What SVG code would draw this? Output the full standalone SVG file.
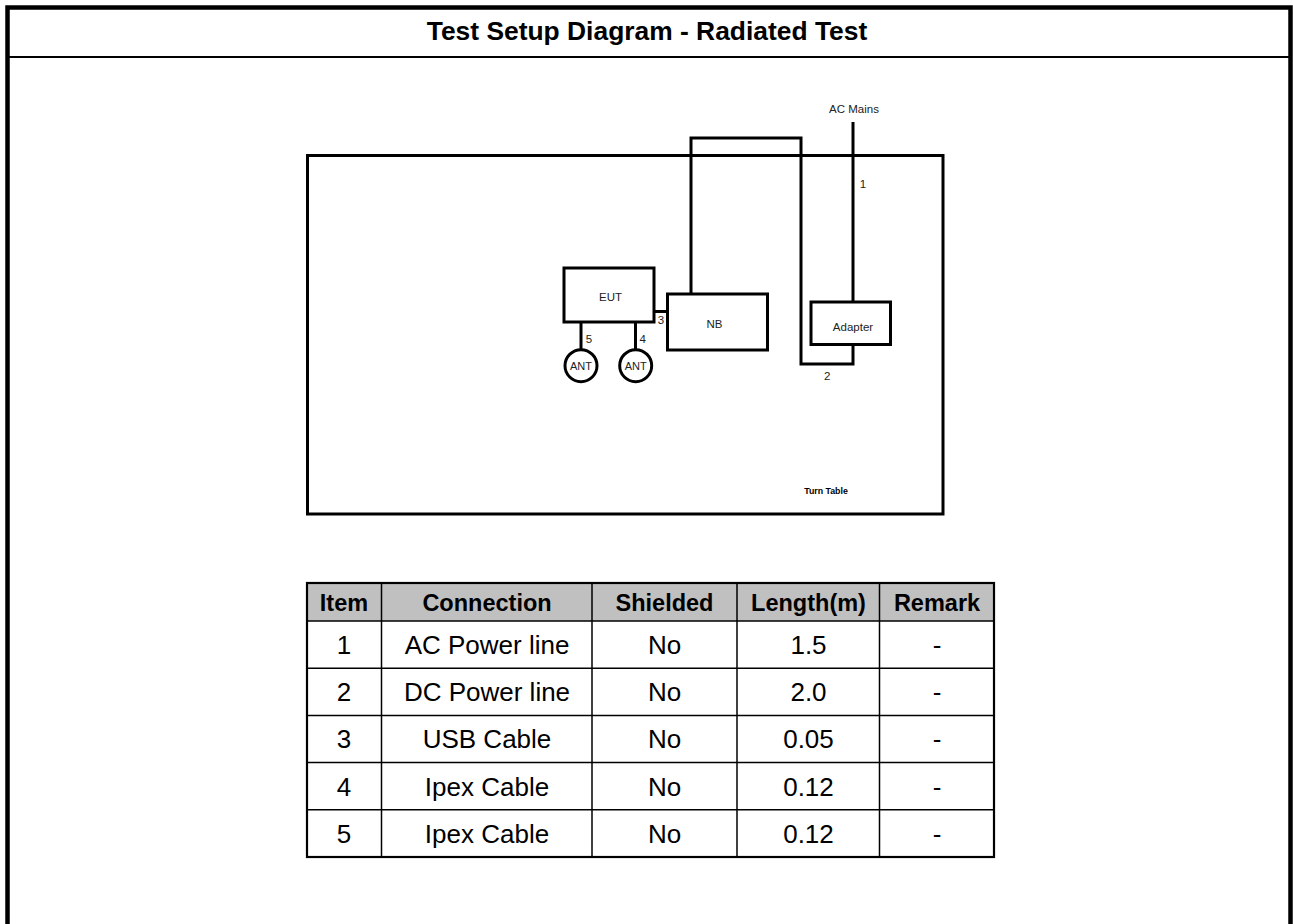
<svg xmlns="http://www.w3.org/2000/svg" width="1293" height="924" viewBox="0 0 1293 924">
<style>
.ln{stroke:#000;stroke-width:3;fill:none}
.box{stroke:#000;stroke-width:3;fill:#fff}
.lbl{font-family:"Liberation Sans",Arial,sans-serif;font-size:11.5px;fill:#222;text-anchor:middle}
.th{font-family:"Liberation Sans",Arial,sans-serif;font-size:23.5px;font-weight:bold;fill:#000;text-anchor:middle}
.td{font-family:"Liberation Sans",Arial,sans-serif;font-size:26px;fill:#000;text-anchor:middle}
.grid{stroke:#000;stroke-width:1.5;fill:none}
</style>
<rect x="0" y="0" width="1293" height="924" fill="#fff"/>
<g id="frame">
<rect x="7.5" y="7.5" width="1283" height="940" fill="none" stroke="#000" stroke-width="4.5"/>
<line x1="7.5" y1="57" x2="1290.5" y2="57" stroke="#000" stroke-width="2"/>
<text x="647" y="40" font-family="'Liberation Sans',Arial,sans-serif" font-size="26.4" font-weight="bold" text-anchor="middle">Test Setup Diagram - Radiated Test</text>
</g>
<g id="turntable">
<rect x="307.5" y="155.5" width="635.5" height="358.5" class="ln"/>
<text x="826" y="494.2" font-family="'Liberation Sans',Arial,sans-serif" font-size="8.8" font-weight="bold" text-anchor="middle">Turn Table</text>
</g>
<g id="connectors">
<line x1="853" y1="122" x2="853" y2="302" class="ln"/>
<path d="M853 344.5 V364 H801 V138 H691 V294" class="ln"/>
<line x1="654" y1="311.5" x2="667.5" y2="311.5" class="ln"/>
<line x1="635.5" y1="322" x2="635.5" y2="349" class="ln"/>
<line x1="581" y1="322" x2="581" y2="349" class="ln"/>
<text x="863" y="187.5" class="lbl">1</text>
<text x="827.3" y="380" class="lbl">2</text>
<text x="661" y="323.5" class="lbl">3</text>
<text x="642.7" y="342.5" class="lbl">4</text>
<text x="589" y="342.5" class="lbl">5</text>
<text x="854" y="112.5" class="lbl">AC Mains</text>
</g>
<g id="eut">
<rect x="564" y="268" width="90" height="54" class="box"/>
<text x="610.5" y="300.8" class="lbl">EUT</text>
</g>
<g id="nb">
<rect x="667.5" y="294" width="100" height="56" class="box"/>
<text x="714.5" y="327.5" class="lbl">NB</text>
</g>
<g id="adapter">
<rect x="811" y="302" width="79.5" height="42.5" class="box"/>
<text x="853" y="330.8" class="lbl">Adapter</text>
</g>
<g id="ant1">
<circle cx="581" cy="365.7" r="16" class="box"/>
<text x="581" y="369.8" class="lbl" style="font-size:11px">ANT</text>
</g>
<g id="ant2">
<circle cx="635.7" cy="365.7" r="16" class="box"/>
<text x="635.7" y="369.8" class="lbl" style="font-size:11px">ANT</text>
</g>
<g id="table">
<rect x="307" y="583" width="687" height="38" fill="#c0c0c0"/>
<g class="grid">
<line x1="307" y1="621" x2="994" y2="621"/>
<line x1="307" y1="668.2" x2="994" y2="668.2"/>
<line x1="307" y1="715.4" x2="994" y2="715.4"/>
<line x1="307" y1="762.6" x2="994" y2="762.6"/>
<line x1="307" y1="809.8" x2="994" y2="809.8"/>
<line x1="381.5" y1="583" x2="381.5" y2="857"/>
<line x1="592" y1="583" x2="592" y2="857"/>
<line x1="737" y1="583" x2="737" y2="857"/>
<line x1="879.5" y1="583" x2="879.5" y2="857"/>
</g>
<rect x="307" y="583" width="687" height="274" fill="none" stroke="#000" stroke-width="2.2"/>
<text x="344" y="610.5" class="th">Item</text>
<text x="487" y="610.5" class="th">Connection</text>
<text x="664.5" y="610.5" class="th">Shielded</text>
<text x="808.5" y="610.5" class="th">Length(m)</text>
<text x="937" y="610.5" class="th">Remark</text>
<text x="344" y="654" class="td">1</text>
<text x="487" y="654" class="td">AC Power line</text>
<text x="664.5" y="654" class="td">No</text>
<text x="808.5" y="654" class="td">1.5</text>
<text x="937" y="654" class="td">-</text>
<text x="344" y="701.2" class="td">2</text>
<text x="487" y="701.2" class="td">DC Power line</text>
<text x="664.5" y="701.2" class="td">No</text>
<text x="808.5" y="701.2" class="td">2.0</text>
<text x="937" y="701.2" class="td">-</text>
<text x="344" y="748.4" class="td">3</text>
<text x="487" y="748.4" class="td">USB Cable</text>
<text x="664.5" y="748.4" class="td">No</text>
<text x="808.5" y="748.4" class="td">0.05</text>
<text x="937" y="748.4" class="td">-</text>
<text x="344" y="795.6" class="td">4</text>
<text x="487" y="795.6" class="td">Ipex Cable</text>
<text x="664.5" y="795.6" class="td">No</text>
<text x="808.5" y="795.6" class="td">0.12</text>
<text x="937" y="795.6" class="td">-</text>
<text x="344" y="842.8" class="td">5</text>
<text x="487" y="842.8" class="td">Ipex Cable</text>
<text x="664.5" y="842.8" class="td">No</text>
<text x="808.5" y="842.8" class="td">0.12</text>
<text x="937" y="842.8" class="td">-</text>
</g>
</svg>
